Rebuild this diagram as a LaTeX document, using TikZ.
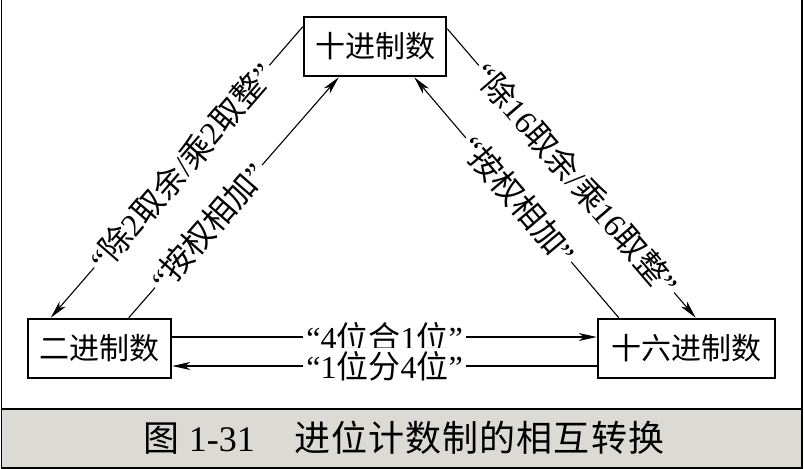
\documentclass[tikz,border=0pt]{standalone}
\usepackage{fontspec}
\setmainfont{Liberation Serif}
\newfontfamily\cjk{Noto Sans CJK SC}
\newfontfamily\capcjk[LetterSpace=3]{Noto Sans CJK SC}
\usetikzlibrary{arrows.meta}
\definecolor{bandgray}{HTML}{DBDAD5}
\tikzset{
  box/.style={draw,line width=2.5pt,minimum height=59pt,inner sep=0pt,
    font=\fontsize{30}{30}\selectfont\cjk},
  conn/.style={line width=1.1pt,-{Stealth[length=18pt,width=8pt,inset=5pt]}},
  lbl/.style={fill=white,sloped,inner sep=3pt,font=\fontsize{32}{32}\selectfont},
}
\begin{document}
\begin{tikzpicture}[x=1pt,y=-1pt]
    \useasboundingbox (0,0) rectangle (804,469);
    \fill[bandgray] (1.5,409) rectangle (802,468);
    \draw[line width=1.2pt] (1.5,0) -- (1.5,468) -- (802,468) -- (802,0);
    \draw[line width=1.2pt] (1.5,409) -- (802,409);
    \node[box,minimum width=142pt] at (375,46.5) (dec) {十进制数};
    \node[box,minimum width=143pt] at (99.5,348.5) (bin) {二进制数};
    \node[box,minimum width=177pt] at (686.5,348.5) (hex) {十六进制数};
    \node[font=\fontsize{36}{36}\selectfont] at (404,438) (cap)
      {{\capcjk 图} 1-31\hspace{1.1em}{\capcjk 进位计数制的相互转换}};
    \draw[conn] ([yshift=-11pt]dec.north west) -- node[lbl,pos=0.48]
      {“{\cjk 除}2{\cjk 取余}/{\cjk 乘}2{\cjk 取整}”} ([xshift=24pt]bin.north west);
    \draw[conn] ([xshift=102pt]bin.north west) -- node[lbl,pos=0.38]
      {“{\cjk 按权相加}”} ([xshift=36pt]dec.south west);
    \draw[conn] ([yshift=-13pt]dec.north east) -- node[lbl,pos=0.52]
      {“{\cjk 除}16{\cjk 取余}/{\cjk 乘}16{\cjk 取整}”} ([xshift=99pt]hex.north west);
    \draw[conn] ([xshift=22pt]hex.north west) -- node[lbl,pos=0.49]
      {“{\cjk 按权相加}”} ([xshift=-33pt]dec.south east);
    \draw[conn] ([yshift=11.5pt]bin.east) -- node[lbl]
      {“4{\cjk 位合}1{\cjk 位}”} ([yshift=11.5pt]hex.west);
    \draw[conn] ([yshift=-17.5pt]hex.west) -- node[lbl]
      {“1{\cjk 位分}4{\cjk 位}”} ([yshift=-17.5pt]bin.east);
\end{tikzpicture}
\end{document}
